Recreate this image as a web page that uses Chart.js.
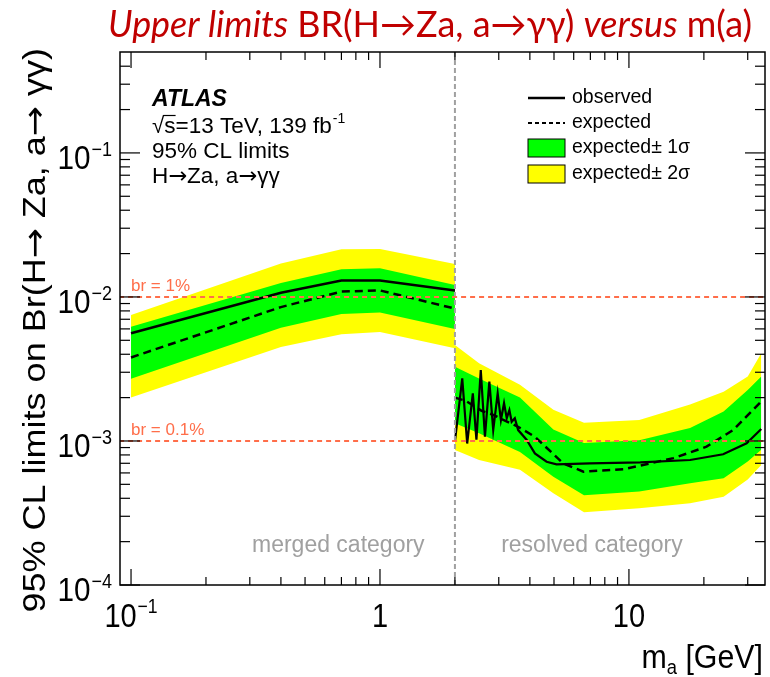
<!DOCTYPE html>
<html>
<head>
<meta charset="utf-8">
<script src="https://cdn.jsdelivr.net/npm/chart.js@4.4.1/dist/chart.umd.min.js"></script>
<style>
  html, body { margin: 0; padding: 0; background: #fff; }
</style>
</head>
<body>
<canvas id="limits" width="770" height="677"></canvas>
<script>
// merged category (boosted photons), m_a in GeV
const mergedMass = [0.1, 0.4, 0.7, 1.0, 2.0];
const mergedObs = [0.0056, 0.0107, 0.0130, 0.0130, 0.0111];
const mergedExp = [0.0038, 0.0085, 0.0109, 0.0111, 0.0083];
const mergedUp1 = [0.0062, 0.0125, 0.0156, 0.0158, 0.0121];
const mergedDn1 = [0.0027, 0.0061, 0.0076, 0.0078, 0.0060];
const mergedUp2 = [0.0075, 0.0171, 0.0214, 0.0215, 0.0169];
const mergedDn2 = [0.0020, 0.0045, 0.0055, 0.0057, 0.0044];

// resolved category bands
const resolvedBandMass = [2.0, 2.5, 3.65, 4.97, 6.6, 11, 17.6, 24, 30, 34];
const resolvedUp2 = [0.00464, 0.00347, 0.00246, 0.00165, 0.00134, 0.00140, 0.00179, 0.00220, 0.00280, 0.00406];
const resolvedUp1 = [0.00328, 0.00272, 0.00200, 0.00120, 0.00097, 0.00101, 0.00123, 0.00160, 0.00226, 0.00280];
const resolvedDn1 = [0.00133, 0.00113, 0.00084, 0.000565, 0.00042, 0.000445, 0.000508, 0.00055, 0.00072, 0.00087];
const resolvedDn2 = [0.000866, 0.000738, 0.00063, 0.000433, 0.00032, 0.000341, 0.00037, 0.00041, 0.00054, 0.00068];

// resolved expected
const resolvedExpMass = [2.0, 2.21, 2.56, 2.85, 3.13, 3.54, 4.19, 5.44, 6.56, 9.5, 15.1, 20.5, 26.2, 34];
const resolvedExp = [0.00200, 0.00190, 0.00162, 0.00152, 0.00140, 0.00127, 0.00107, 0.00070, 0.000612, 0.000636, 0.00076, 0.000913, 0.00119, 0.00188];

// resolved observed
const resolvedObsMass = [2.0, 2.14, 2.24, 2.36, 2.44, 2.54, 2.64, 2.75, 2.85, 2.97, 3.06, 3.15, 3.23, 3.31, 3.38, 3.48, 3.59, 3.88, 4.19, 4.67, 5.12, 6.97, 11.1, 17.6, 23.9, 29.7, 34];
const resolvedObs = [0.00099, 0.00272, 0.00096, 0.00214, 0.00102, 0.00311, 0.00107, 0.00258, 0.00119, 0.00214, 0.00140, 0.00183, 0.00144, 0.00164, 0.00136, 0.00144, 0.00119, 0.00102, 0.00082, 0.000718, 0.000689, 0.00070, 0.000711, 0.000738, 0.000809, 0.000964, 0.00121];

// reference lines
const brLevels = [0.01, 0.001];
const brLabels = ['br = 1%', 'br = 0.1%'];
const categoryBoundary = 2.0;
const categoryNames = ['merged category', 'resolved category'];
const categoryCentres = [0.68, 7.1];

// axis ticks
const xMajorTicks = [0.1, 1, 10];
const xMinorTicks = [0.2, 0.3, 0.4, 0.5, 0.6, 0.7, 0.8, 0.9, 2, 3, 4, 5, 6, 7, 8, 9, 20, 30];
const xLabelBase = ['10', '1', '10'];
const xLabelExp = ['\u22121', '', ''];
const yMajorTicks = [1e-4, 1e-3, 1e-2, 1e-1];
const yMinorTicks = [2e-4, 3e-4, 4e-4, 5e-4, 6e-4, 7e-4, 8e-4, 9e-4, 2e-3, 3e-3, 4e-3, 5e-3, 6e-3, 7e-3, 8e-3, 9e-3,
  0.02, 0.03, 0.04, 0.05, 0.06, 0.07, 0.08, 0.09, 0.2, 0.3, 0.4];
const yLabelBase = ['10', '10', '10', '10'];
const yLabelExp = ['\u22124', '\u22123', '\u22122', '\u22121'];

const SANS = '"Liberation Sans", Arial, Helvetica, sans-serif';
const ARROW_FONT = '"DejaVu Sans", sans-serif';
const GREEN = '#00ff00';
const YELLOW = '#ffff00';
const BR_COLOR = '#ff6e4a';
const GREY = '#a0a0a0';

const pts = (xs, ys) => xs.map((x, i) => ({ x: x, y: ys[i] }));

const edge = (data, fillTo, color) => ({
  data: data,
  fill: fillTo === undefined ? false : fillTo,
  backgroundColor: color || 'rgba(0,0,0,0)',
  borderColor: 'rgba(0,0,0,0)',
  borderWidth: 0,
  pointRadius: 0,
  tension: 0,
});

const datasets = [
  // 0,1 br reference lines
  ...brLevels.map(v => ({
    data: [{ x: 0.05, y: v }, { x: 50, y: v }],
    borderColor: BR_COLOR, borderWidth: 2, borderDash: [5, 4], pointRadius: 0, fill: false,
  })),
  // 2 category boundary
  {
    data: [{ x: categoryBoundary, y: 1e-5 }, { x: categoryBoundary, y: 1 }],
    borderColor: GREY, borderWidth: 2, borderDash: [5, 3], pointRadius: 0, fill: false,
  },
  // 3,4 observed
  { data: pts(mergedMass, mergedObs), borderColor: '#000', borderWidth: 2.5, pointRadius: 0, fill: false },
  { data: pts(resolvedObsMass, resolvedObs), borderColor: '#000', borderWidth: 2.2, pointRadius: 0, fill: false },
  // 5,6 expected
  { data: pts(mergedMass, mergedExp), borderColor: '#000', borderWidth: 2.5, borderDash: [8, 5], pointRadius: 0, fill: false },
  { data: pts(resolvedExpMass, resolvedExp), borderColor: '#000', borderWidth: 2.5, borderDash: [8, 5], pointRadius: 0, fill: false },
  // 7..10 one sigma
  edge(pts(mergedMass, mergedUp1), 8, GREEN),
  edge(pts(mergedMass, mergedDn1)),
  edge(pts(resolvedBandMass, resolvedUp1), 10, GREEN),
  edge(pts(resolvedBandMass, resolvedDn1)),
  // 11..14 two sigma
  edge(pts(mergedMass, mergedUp2), 12, YELLOW),
  edge(pts(mergedMass, mergedDn2)),
  edge(pts(resolvedBandMass, resolvedUp2), 14, YELLOW),
  edge(pts(resolvedBandMass, resolvedDn2)),
];

// text with the arrow glyph taken from DejaVu (longer, like the ROOT symbol)
function mixedWidth(ctx, text, font, size) {
  let w = 0;
  text.split(/(\u2192)/).forEach(p => {
    if (!p) return;
    ctx.font = size + 'px ' + (p === '\u2192' ? ARROW_FONT : font);
    w += ctx.measureText(p).width;
  });
  return w;
}

function mixedText(ctx, text, x, y, font, size) {
  let cx = x;
  text.split(/(\u2192)/).forEach(p => {
    if (!p) return;
    ctx.font = size + 'px ' + (p === '\u2192' ? ARROW_FONT : font);
    ctx.fillText(p, cx, y);
    cx += ctx.measureText(p).width;
  });
  return cx;
}

function supText(ctx, x, y, base, exp, size, align, shift, squash) {
  ctx.font = size + 'px ' + SANS;
  const wb = ctx.measureText(base).width;
  const es = Math.round(size * 0.6);
  ctx.font = es + 'px ' + SANS;
  const we = exp ? ctx.measureText(exp).width + 1 : 0;
  const tw = (wb + we) * squash;
  let x0 = x;
  if (align === 'center') x0 = x - tw / 2;
  if (align === 'right') x0 = x - tw;
  ctx.save();
  ctx.translate(x0, y);
  ctx.scale(squash, 1);
  ctx.textAlign = 'left';
  ctx.font = size + 'px ' + SANS;
  ctx.fillText(base, 0, 0);
  if (exp) {
    ctx.font = es + 'px ' + SANS;
    ctx.fillText(exp, wb + 1, -shift);
  }
  ctx.restore();
}

function seg(ctx, x1, y1, x2, y2) {
  ctx.beginPath();
  ctx.moveTo(x1, y1);
  ctx.lineTo(x2, y2);
  ctx.stroke();
}

const decorations = {
  id: 'decorations',
  afterDraw(chart) {
    const { ctx, chartArea: a, scales: { x, y } } = chart;
    ctx.save();

    // frame and ticks
    ctx.strokeStyle = '#000';
    ctx.lineWidth = 1.5;
    ctx.strokeRect(a.left, a.top, a.right - a.left, a.bottom - a.top);
    ctx.lineWidth = 1.2;
    xMajorTicks.forEach(v => {
      const px = x.getPixelForValue(v);
      seg(ctx, px, a.bottom, px, a.bottom - 16);
      seg(ctx, px, a.top, px, a.top + 16);
    });
    xMinorTicks.forEach(v => {
      const px = x.getPixelForValue(v);
      seg(ctx, px, a.bottom, px, a.bottom - 8);
      seg(ctx, px, a.top, px, a.top + 8);
    });
    yMajorTicks.forEach(v => {
      const py = y.getPixelForValue(v);
      seg(ctx, a.left, py, a.left + 20, py);
      seg(ctx, a.right, py, a.right - 20, py);
    });
    yMinorTicks.forEach(v => {
      const py = y.getPixelForValue(v);
      seg(ctx, a.left, py, a.left + 10, py);
      seg(ctx, a.right, py, a.right - 10, py);
    });

    // tick labels
    ctx.fillStyle = '#000';
    ctx.textBaseline = 'alphabetic';
    xMajorTicks.forEach((v, i) => {
      supText(ctx, x.getPixelForValue(v), a.bottom + 42, xLabelBase[i], xLabelExp[i], 33, 'center', 14, 0.88);
    });
    yMajorTicks.forEach((v, i) => {
      supText(ctx, a.left - 8, y.getPixelForValue(v) + 16, yLabelBase[i], yLabelExp[i], 33, 'right', 13, 0.9);
    });

    // x axis title, right aligned
    ctx.save();
    ctx.font = '33px ' + SANS;
    const gev = ' [GeV]';
    const wGev = ctx.measureText(gev).width;
    ctx.font = '20px ' + SANS;
    const wSub = ctx.measureText('a').width;
    ctx.font = '33px ' + SANS;
    const wM = ctx.measureText('m').width;
    const sq = 0.92;
    ctx.translate(a.right - 2 - (wGev + wSub + wM) * sq, a.bottom + 83);
    ctx.scale(sq, 1);
    ctx.textAlign = 'left';
    ctx.fillText('m', 0, 0);
    ctx.fillText(gev, wM + wSub, 0);
    ctx.font = '20px ' + SANS;
    ctx.fillText('a', wM, 6);
    ctx.restore();

    // y axis title, right aligned at the top of the frame
    ctx.save();
    const yTitle = '95% CL limits on Br(H\u2192 Za, a\u2192 \u03b3\u03b3)';
    const ySize = 36;
    const yw = mixedWidth(ctx, yTitle, SANS, ySize);
    ctx.translate(45, a.top - 4);
    ctx.rotate(-Math.PI / 2);
    ctx.scale(1, 0.88);
    ctx.textAlign = 'left';
    mixedText(ctx, yTitle, -yw, 0, SANS, ySize);
    ctx.restore();

    // reference line labels
    ctx.textAlign = 'left';
    ctx.fillStyle = BR_COLOR;
    ctx.font = '17px ' + SANS;
    brLevels.forEach((v, i) => {
      ctx.fillText(brLabels[i], x.getPixelForValue(0.1), y.getPixelForValue(v) - 6);
    });

    // category labels
    ctx.fillStyle = GREY;
    ctx.font = '23px ' + SANS;
    ctx.textAlign = 'center';
    categoryNames.forEach((t, i) => {
      ctx.fillText(t, x.getPixelForValue(categoryCentres[i]), y.getPixelForValue(1.9e-4) + 7);
    });

    // ATLAS block
    ctx.fillStyle = '#000';
    ctx.textAlign = 'left';
    ctx.font = 'italic bold 23px ' + SANS;
    ctx.fillText('ATLAS', 152, 106);
    ctx.font = '22.5px ' + SANS;
    ctx.fillText('\u221as=13 TeV, 139 fb', 152, 133);
    const wRoot = ctx.measureText('\u221a').width;
    const wS = ctx.measureText('s').width;
    const wLumi = ctx.measureText('\u221as=13 TeV, 139 fb').width;
    ctx.strokeStyle = '#000';
    ctx.lineWidth = 1.2;
    seg(ctx, 152 + wRoot - 1, 115.5, 152 + wRoot + wS, 115.5);
    ctx.font = '14px ' + SANS;
    ctx.fillText('-1', 152 + wLumi + 1, 123);
    ctx.font = '22.5px ' + SANS;
    ctx.fillText('95% CL limits', 152, 158);
    mixedText(ctx, 'H\u2192Za, a\u2192\u03b3\u03b3', 152, 183, SANS, 22.5);

    // legend
    const lx = 528, lw = 37, tx = 572;
    ctx.strokeStyle = '#000';
    ctx.lineWidth = 2.5;
    seg(ctx, lx, 98, lx + lw, 98);
    ctx.setLineDash([4, 3]);
    ctx.lineWidth = 2;
    seg(ctx, lx, 123, lx + lw, 123);
    ctx.setLineDash([]);
    ctx.lineWidth = 1;
    ctx.fillStyle = GREEN;
    ctx.fillRect(lx, 139, lw, 18);
    ctx.strokeRect(lx, 139, lw, 18);
    ctx.fillStyle = YELLOW;
    ctx.fillRect(lx, 165, lw, 18);
    ctx.strokeRect(lx, 165, lw, 18);
    ctx.fillStyle = '#000';
    ctx.font = '19.5px ' + SANS;
    ctx.textBaseline = 'middle';
    ctx.fillText('observed', tx, 98);
    ctx.fillText('expected', tx, 123);
    ctx.fillText('expected\u00b1 1\u03c3', tx, 148);
    ctx.fillText('expected\u00b1 2\u03c3', tx, 174);

    // page title
    ctx.textBaseline = 'alphabetic';
    const parts = [
      ['italic', 'Upper limits'], ['normal', ' BR(H\u2192Za, a\u2192\u03b3\u03b3) '],
      ['italic', 'versus'], ['normal', ' m(a)'],
    ];
    const tFont = s => s + ' 36px Lato, "Open Sans", sans-serif';
    let total = 0;
    parts.forEach(p => { ctx.font = tFont(p[0]); total += ctx.measureText(p[1]).width; });
    ctx.save();
    ctx.translate(108, 37);
    ctx.scale(644 / total, 1);
    ctx.fillStyle = '#c00000';
    let cx = 0;
    parts.forEach(p => {
      ctx.font = tFont(p[0]);
      ctx.fillText(p[1], cx, 0);
      cx += ctx.measureText(p[1]).width;
    });
    ctx.restore();

    ctx.restore();
  }
};

new Chart(document.getElementById('limits'), {
  type: 'line',
  data: { datasets: datasets },
  options: {
    responsive: false,
    animation: false,
    events: [],
    layout: { padding: { left: 120, right: 5, top: 52, bottom: 92 } },
    scales: {
      x: { type: 'logarithmic', min: 0.0903, max: 35.2, display: false },
      y: { type: 'logarithmic', min: 1e-4, max: 0.502, display: false },
    },
    plugins: {
      legend: { display: false },
      tooltip: { enabled: false },
    },
  },
  plugins: [decorations],
});
</script>
</body>
</html>
